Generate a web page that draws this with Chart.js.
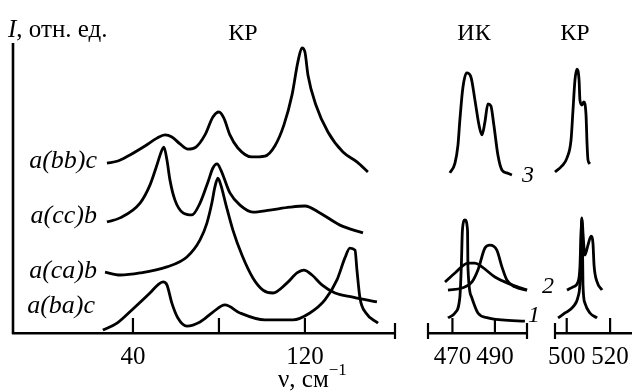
<!DOCTYPE html>
<html><head><meta charset="utf-8">
<script src="https://cdn.jsdelivr.net/npm/chart.js@4.4.1/dist/chart.umd.min.js"></script>
<style>
html,body{margin:0;padding:0;background:#fff;}
#wrap{position:relative;width:632px;height:392px;overflow:hidden;font-family:'Liberation Serif','Times New Roman',serif;color:#000;}
canvas{position:absolute;left:0;top:0;}
.t{position:absolute;font-size:24px;line-height:24px;white-space:nowrap;}
.c{transform:translateX(-50%);}
.i{font-style:italic;}
sup{font-size:17px;line-height:0;position:relative;top:-3px;}
</style></head><body>
<div id="wrap">
<canvas id="c1" width="632" height="392"></canvas>
<canvas id="c2" width="632" height="392"></canvas>
<canvas id="c3" width="690" height="392"></canvas>
<div class="t" style="left:8px;top:16px;font-size:25px;line-height:25px"><i>I</i>, отн. ед.</div>
<div class="t c" style="left:243px;top:20px">КР</div>
<div class="t c" style="left:474px;top:20px">ИК</div>
<div class="t c" style="left:575px;top:20px">КР</div>
<div class="t i" style="right:535px;top:147px;font-size:26px;line-height:26px">a(bb)c</div>
<div class="t i" style="right:535px;top:202px;font-size:26px;line-height:26px">a(cc)b</div>
<div class="t i" style="right:535px;top:257px;font-size:26px;line-height:26px">a(ca)b</div>
<div class="t i" style="right:537px;top:292px;font-size:26px;line-height:26px">a(ba)c</div>
<div class="t i c" style="left:528px;top:162px">3</div>
<div class="t i c" style="left:548px;top:273px">2</div>
<div class="t i c" style="left:534px;top:302px">1</div>
<div class="t" style="left:278px;top:366px;font-size:25px;line-height:25px">ν, см<sup>−1</sup></div>
</div>
<script>
// ---- main Raman panel (ν, cm^-1 ; I, rel. units) ----
const bbNu = [27.9,33.0,38.6,45.6,51.2,54.9,58.1,61.9,65.6,69.3,73.5,77.2,80.0,82.3,85.1,88.8,95.3,101.4,106.0,110.2,114.0,116.7,118.6,120.0,121.4,125.1,130.7,137.7,144.2,149.3];
const bbI  = [58.6,59.3,61.4,64.5,67.2,68.3,67.6,65.2,63.4,64.1,68.3,74.5,76.2,74.1,68.3,63.8,60.7,61.0,64.5,71.7,82.1,93.4,98.3,96.9,89.0,78.6,69.3,62.4,59.0,55.5];
const ccNu = [27.9,34.0,43.3,47.9,50.7,53.5,54.4,55.8,57.2,59.5,63.3,67.4,71.2,74.9,77.2,79.1,80.9,85.1,89.8,95.8,103.7,113.0,120.0,127.0,136.3,147.0];
const ccI  = [38.3,39.7,44.8,51.0,56.9,63.1,64.1,59.7,52.8,45.9,41.4,40.7,44.8,52.1,56.9,58.3,56.2,48.3,44.1,41.7,42.4,43.4,43.8,41.4,37.2,34.5];
const caNu = [27.0,34.0,43.3,55.8,65.1,71.2,74.4,76.7,78.1,79.5,80.9,83.3,86.5,90.7,95.8,100.5,105.1,111.6,116.3,119.5,123.3,127.9,134.0,142.3,153.5];
const caI  = [21.0,20.0,20.7,22.8,26.2,32.1,37.9,44.8,50.3,53.4,51.0,44.1,35.5,26.9,19.0,14.8,13.8,17.2,20.7,21.7,20.0,16.6,13.8,12.4,10.7];
const baNu = [26.0,32.6,40.0,47.9,51.6,54.0,55.8,58.1,60.9,65.1,71.2,77.2,82.8,89.8,101.4,114.4,122.3,129.3,134.9,138.6,140.9,143.3,144.2,145.6,148.4,154.0];
const baI  = [1.0,3.4,8.3,13.8,16.6,17.6,16.6,10.3,5.2,2.4,3.8,7.2,9.7,6.9,4.5,4.5,6.9,11.4,18.3,25.9,29.3,28.6,21.7,12.1,6.9,3.4];
// ---- IR panel ----
const ir3Nu = [468.8,471.2,472.6,473.5,474.9,476.7,478.7,480.6,482.5,483.9,485.3,486.7,488.1,489.5,491.4,493.3,495.6,498.0];
const ir3I  = [55.2,58.6,64.8,73.4,84.5,89.7,88.3,80.3,71.7,68.3,72.8,79.0,78.3,71.7,61.4,56.2,55.2,54.5];
const ir2aNu = [466.5,471.2,477.3,480.6,483.9,490.0,498.0,505.1];
const ir2aI  = [17.6,20.7,24.1,24.1,22.8,19.3,16.6,14.8];
const ir2bNu = [467.9,474.5,479.2,482.0,485.3,487.6,490.9,493.3,495.6,499.4,505.1];
const ir2bI  = [14.8,15.5,17.6,21.7,29.3,30.3,28.6,22.8,18.3,15.9,14.8];
const ir1Nu = [467.9,471.2,473.5,474.2,474.7,475.9,477.1,477.3,479.0,482.0,486.7,493.3,504.1];
const ir1I  = [5.2,6.9,12.4,23.4,35.5,39.0,35.5,22.8,12.4,6.9,5.2,4.5,4.1];
// ---- high-frequency Raman panel ----
const kr3Nu = [494.6,497.8,500.1,502.0,502.9,503.8,504.7,505.7,506.1,507.0,507.9,508.9,509.4,509.8,510.7];
const kr3I  = [55.5,57.6,60.3,66.6,76.9,87.2,91.0,87.2,80.3,78.6,79.7,75.2,64.8,59.7,58.3];
const kr2Nu = [500.1,502.9,505.2,506.1,506.6,507.1,507.5,508.4,509.8,511.2,512.1,512.6,514.0,516.3];
const kr2I  = [14.8,15.9,17.6,22.8,34.5,39.3,34.5,26.9,30.3,33.4,31.0,23.4,17.6,14.8];
const kr1Nu = [496.0,499.2,502.9,505.2,506.1,506.6,506.9,507.3,507.5,508.4,510.7,514.0];
const kr1I  = [5.2,6.9,9.0,12.4,17.2,28.6,39.7,28.6,16.6,10.3,6.9,5.2];
// ---- ticks ----
const mainTicks = [40, 80, 120];
const mainTickLabels = ['40', '', '120'];
const irTicks = [470, 490];
const irTickLabels = ['470', '490'];
const krTicks = [500, 520];
const krTickLabels = ['500', '520'];

const FONT = "'Liberation Serif','Times New Roman',serif";

const axisDeco = {
  id: 'axisDeco',
  afterDraw(chart, args, o) {
    const ctx = chart.ctx, xs = chart.scales.x, ys = chart.scales.y;
    const bottom = ys.getPixelForValue(0);
    const line = (x1, y1, x2, y2) => { ctx.beginPath(); ctx.moveTo(x1, y1); ctx.lineTo(x2, y2); ctx.stroke(); };
    ctx.save();
    ctx.strokeStyle = '#000'; ctx.lineWidth = 2.2;
    (o.marks || []).forEach(v => { const p = xs.getPixelForValue(v); line(p, bottom, p, bottom - 15); });
    (o.ends || []).forEach(v => { const p = xs.getPixelForValue(v); line(p, bottom - 10, p, bottom + 6); });
    if (o.yAxis) {
      const p = xs.getPixelForValue(xs.min);
      ctx.lineWidth = 2.6;
      line(p, ys.getPixelForValue(ys.max), p, bottom + 1);
    }
    ctx.restore();
  }
};

function ds(nu, inten) {
  return {
    data: nu.map((x, i) => ({ x, y: inten[i] })),
    borderColor: '#000', borderWidth: 2.8, pointRadius: 0, fill: false,
    cubicInterpolationMode: 'monotone', clip: false
  };
}

function make(id, padL, padR, xmin, xmax, ticks, labels, sets, deco) {
  return new Chart(document.getElementById(id), {
    type: 'line',
    data: { datasets: sets },
    plugins: [axisDeco],
    options: {
      responsive: false, animation: false, devicePixelRatio: 1,
      layout: { padding: { left: padL, right: padR, top: 43, bottom: 11 } },
      plugins: { legend: { display: false }, tooltip: { enabled: false }, axisDeco: deco },
      scales: {
        x: {
          type: 'linear', min: xmin, max: xmax,
          grid: { display: false, drawTicks: false },
          border: { display: true, color: '#000', width: 2.6 },
          afterBuildTicks: s => { s.ticks = ticks.map(v => ({ value: v })); },
          ticks: {
            autoSkip: false, maxRotation: 0, minRotation: 0, padding: 9, color: '#000',
            font: { family: FONT, size: 25 },
            callback: (v, i) => labels[i]
          }
        },
        y: { display: false, min: 0, max: 100 }
      }
    }
  });
}

make('c1', 13, 237, -15.8, 161.9, mainTicks, mainTickLabels,
  [ds(bbNu, bbI), ds(ccNu, ccI), ds(caNu, caI), ds(baNu, baI)],
  { marks: mainTicks, ends: [161.9], yAxis: true });
make('c2', 428, 105, 458.5, 505.1, irTicks, irTickLabels,
  [ds(ir3Nu, ir3I), ds(ir2aNu, ir2aI), ds(ir2bNu, ir2bI), ds(ir1Nu, ir1I)],
  { marks: irTicks, ends: [458.5, 505.1] });
make('c3', 555, 58, 494.6, 530.1, krTicks, krTickLabels,
  [ds(kr3Nu, kr3I), ds(kr2Nu, kr2I), ds(kr1Nu, kr1I)],
  { marks: krTicks, ends: [494.6] });
</script>
</body></html>
